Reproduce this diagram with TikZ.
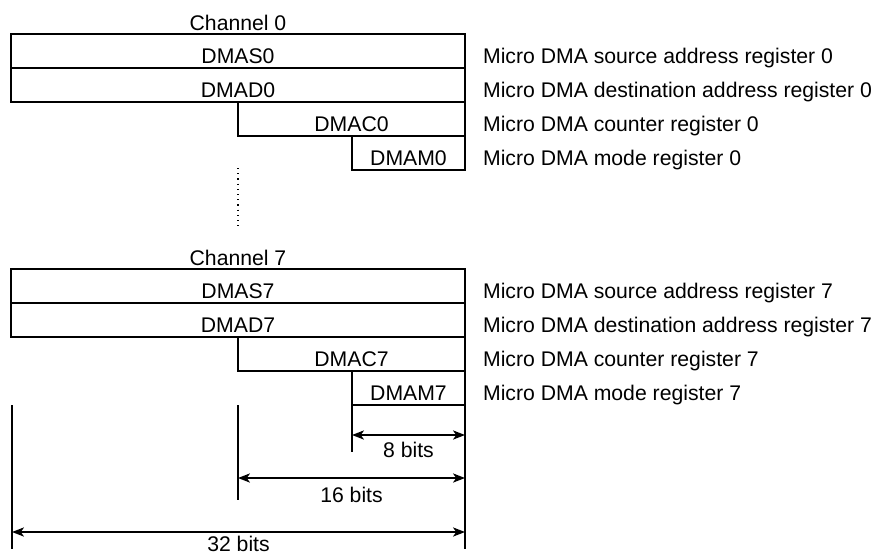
\documentclass[tikz,border=0pt]{standalone}
\usepackage{fontspec}
\setmainfont{Liberation Sans}
\usetikzlibrary{arrows.meta}
\begin{document}
\begin{tikzpicture}[x=0.5pt,y=-0.5pt,line width=1.1pt,font=\fontsize{10.6}{12}\selectfont]
\useasboundingbox (0,0) rectangle (874,554);
\tikzset{dim/.style={line width=0.7pt,{Stealth[length=6pt,width=4.6pt,inset=1.6pt]}-{Stealth[length=6pt,width=4.6pt,inset=1.6pt]}}}
\newcommand\regrow[5]{
\path[draw] (#1,#2) rectangle (465,#2+34);
\node[anchor=base] (#3) at ({(#1+465)/2},#2+29.5) {#4};
\node[anchor=base west,inner xsep=0pt] (#3d) at (482,#2+29.5) {#5};
}
% channel 0
\node[anchor=base] (ch0) at (238,30) {Channel 0};
\regrow{11}{34}{s0}{DMAS0}{Micro DMA source address register 0}
\regrow{11}{68}{d0}{DMAD0}{Micro DMA destination address register 0}
\regrow{238}{102}{c0}{DMAC0}{Micro DMA counter register 0}
\regrow{352}{136}{m0}{DMAM0}{Micro DMA mode register 0}
\coordinate (dots1) at (238,168);
\coordinate (dots2) at (238,230);
\path[draw,dotted,line width=0.6pt] (dots1) -- (dots2);
% channel 7
\node[anchor=base] (ch7) at (238,265) {Channel 7};
\regrow{11}{269}{s7}{DMAS7}{Micro DMA source address register 7}
\regrow{11}{303}{d7}{DMAD7}{Micro DMA destination address register 7}
\regrow{238}{337}{c7}{DMAC7}{Micro DMA counter register 7}
\regrow{352}{371}{m7}{DMAM7}{Micro DMA mode register 7}
% bit widths
\coordinate (t32) at (12,405);
\coordinate (t32e) at (12,549);
\coordinate (t16) at (238,405);
\coordinate (t16e) at (238,500);
\coordinate (t8) at (352,405);
\coordinate (t8e) at (352,452);
\coordinate (tr) at (465,405);
\coordinate (tre) at (465,549);
\path[draw] (t32) -- (t32e);
\path[draw] (t16) -- (t16e);
\path[draw] (t8) -- (t8e);
\path[draw] (tr) -- (tre);
\draw[dim] (t8 |- 0,435) -- (tr |- 0,435);
\draw[dim] (t16 |- 0,478) -- (tr |- 0,478);
\draw[dim] (t32 |- 0,532) -- (tr |- 0,532);
\node[anchor=base] (b8) at (408.5,457) {8 bits};
\node[anchor=base] (b16) at (351.5,502) {16 bits};
\node[anchor=base] (b32) at (238.5,551) {32 bits};
\end{tikzpicture}
\end{document}
